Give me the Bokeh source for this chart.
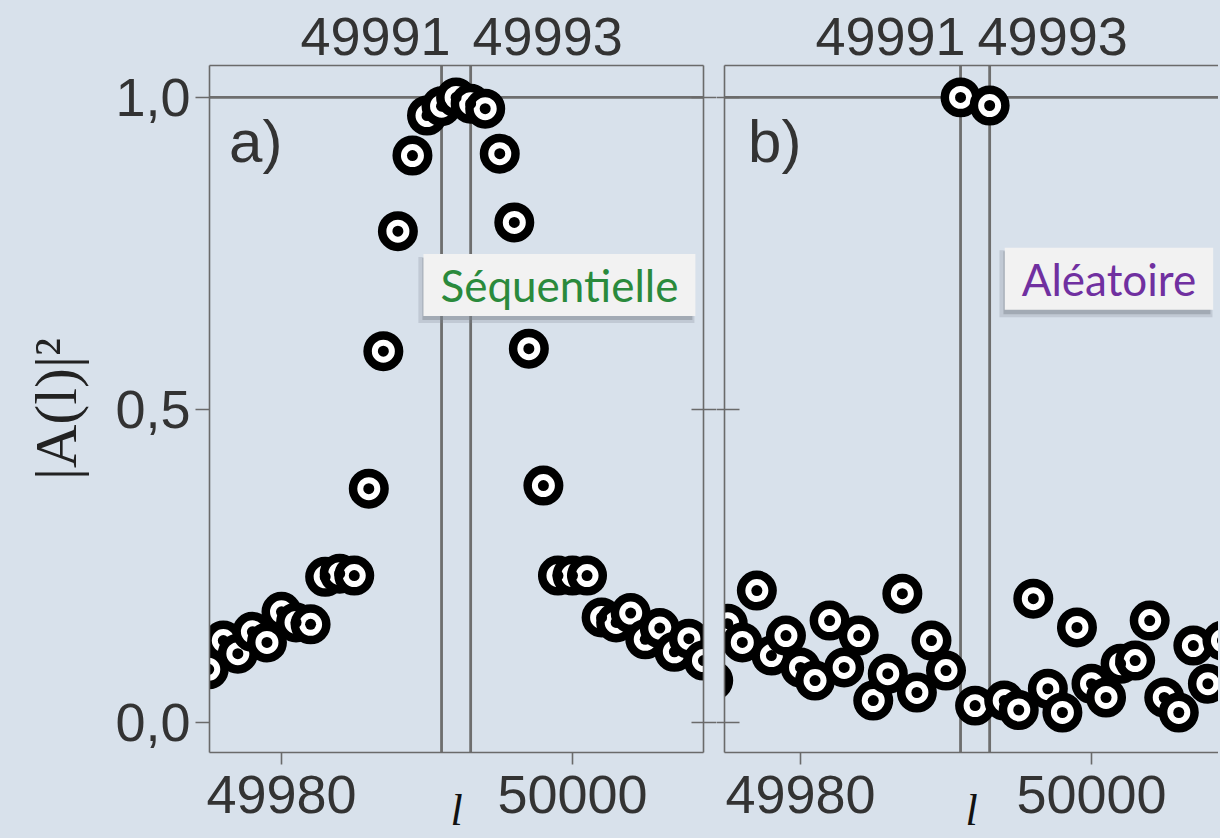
from bokeh.plotting import figure
from bokeh.layouts import row
from bokeh.models import (Span, Label, LinearAxis, FixedTicker, Range1d,
                          CustomJSTickFormatter, ColumnDataSource)
from bokeh.embed import file_html
from bokeh.resources import INLINE

# ---------------- data ----------------
l_seq = list(range(49975, 50010))
a_seq = [0.085, 0.131, 0.110, 0.145, 0.128, 0.177, 0.160, 0.157, 0.233, 0.238,
         0.235, 0.374, 0.594, 0.786, 0.907, 0.971, 0.986, 1.000, 0.990, 0.982,
         0.910, 0.800, 0.598, 0.379, 0.235, 0.235, 0.235, 0.168, 0.160, 0.175,
         0.133, 0.151, 0.113, 0.134, 0.099]

l_ale = list(range(49974, 50010))
a_ale = [0.067, 0.158, 0.128, 0.211, 0.107, 0.139, 0.088, 0.067, 0.163, 0.088,
         0.139, 0.035, 0.078, 0.206, 0.048, 0.131, 0.083, 1.000, 0.027, 0.987,
         0.035, 0.020, 0.198, 0.054, 0.016, 0.152, 0.062, 0.040, 0.094, 0.099,
         0.163, 0.040, 0.016, 0.123, 0.062, 0.131]

x_ticks = [49980, 50000]
marked_l = [49991, 49993]
marked_labels = ["49991", "49993"]
y_ticks = [0.0, 0.5, 1.0]
y_tick_labels = ["0,0", "0,5", "1,0"]
ref_level = 1.0
panel_names = ["a)", "b)"]
box_texts = ["Séquentielle", "Aléatoire"]
box_colors = ["#2a8a3c", "#7030a0"]
y_label = "|A(l)|²"
x_label = "l"

# ---------------- style ----------------
BG = "#d8e1eb"
AXC = "#6a6a6a"
TXT = "#333333"
SANS = "Liberation Sans"
SERIF = "Liberation Serif"
Y0, Y1 = -0.048, 1.051
FRAME_H = 687
PX = 14.55                         # px per unit of l
PY = FRAME_H / (Y1 - Y0)           # px per unit of |A|^2


def style_axis(ax, tick_out, tick_in=0, labels=False):
    ax.axis_line_color = AXC
    ax.axis_line_width = 1.6
    ax.major_tick_line_color = AXC
    ax.major_tick_line_width = 1.6
    ax.major_tick_out = tick_out
    ax.major_tick_in = tick_in
    ax.minor_tick_out = 0
    ax.minor_tick_in = 0
    ax.major_label_text_font = SANS
    ax.major_label_text_font_size = "54px"
    ax.major_label_text_color = TXT
    if not labels:
        ax.formatter = CustomJSTickFormatter(code="return ''")
        ax.major_label_standoff = 0


def make_panel(ls, vals, frame_w, x_left_px_to_tick, border_l, border_r,
               idx, right_axis, top_label_shift):
    x0 = x_ticks[0] - x_left_px_to_tick / PX
    x1 = x0 + frame_w / PX
    p = figure(frame_width=frame_w, frame_height=FRAME_H,
               x_range=Range1d(x0, x1), y_range=Range1d(Y0, Y1),
               output_backend="svg", toolbar_location=None,
               x_axis_location=None, y_axis_location=None,
               min_border_left=border_l, min_border_right=border_r,
               min_border_top=65, min_border_bottom=85,
               background_fill_color=BG, border_fill_color=BG,
               outline_line_color=None, styles={"background-color": BG})
    p.grid.visible = False

    # bottom axis (frame border + ticks + l label)
    bottom = LinearAxis(ticker=FixedTicker(ticks=x_ticks))
    style_axis(bottom, 12, labels=True)
    bottom.major_label_standoff = 11
    bottom.axis_label = x_label
    bottom.axis_label_text_font = SERIF
    bottom.axis_label_text_font_style = "italic"
    bottom.axis_label_text_font_size = "44px"
    bottom.axis_label_text_color = "#111111"
    bottom.axis_label_standoff = -30
    p.add_layout(bottom, "below")

    # top axis: labels of the two marked positions, set beside their lines
    top_pos = [m + s / PX for m, s in zip(marked_l, top_label_shift)]
    top = LinearAxis(ticker=FixedTicker(ticks=top_pos))
    style_axis(top, 0, labels=True)
    top.formatter = CustomJSTickFormatter(args=dict(tlabels=marked_labels),
                                          code="return tlabels[index];")
    top.major_label_standoff = 11
    p.add_layout(top, "above")

    left = LinearAxis(ticker=FixedTicker(ticks=y_ticks))
    if idx == 0:
        style_axis(left, 14, labels=True)
        left.formatter = CustomJSTickFormatter(
            args=dict(tvals=y_ticks, tlabels=y_tick_labels),
            code="const i = tvals.indexOf(tick); return i >= 0 ? tlabels[i] : '';")
        left.major_label_standoff = 5
        left.axis_label = y_label
        left.axis_label_text_font = SERIF
        left.axis_label_text_font_style = "normal"
        left.axis_label_text_font_size = "60px"
        left.axis_label_text_color = "#222222"
        left.axis_label_standoff = 23
    else:
        style_axis(left, 8, tick_in=15)
    p.add_layout(left, "left")

    if right_axis:
        right = LinearAxis(ticker=FixedTicker(ticks=y_ticks))
        style_axis(right, 13, tick_in=12)
        p.add_layout(right, "right")

    # reference lines
    p.add_layout(Span(location=ref_level, dimension="width", line_color="#6e6e6e",
                      line_width=2.8, level="underlay"))
    for m in marked_l:
        p.add_layout(Span(location=m, dimension="height", line_color="#6e6e6e",
                          line_width=2.8, level="underlay"))

    # data: thick black ring, thin white ring, black centre
    src = ColumnDataSource(dict(l=ls, a=vals))
    p.scatter("l", "a", source=src, marker="circle", size=31.5,
              line_width=8.5, line_color="black", fill_color="white")
    p.scatter("l", "a", source=src, marker="circle", size=11,
              line_color=None, fill_color="black")

    # panel name
    p.add_layout(Label(x=49976.4, y=0.93, text=panel_names[idx], text_font=SANS,
                       text_font_size="60px", text_color=TXT,
                       text_baseline="alphabetic"))
    return p


p1 = make_panel(l_seq, a_seq, 494, 72, 209, 13, 0, True, [-66, 77])
p2 = make_panel(l_ale, a_ale, 494, 76, 8, 0, 1, False, [-70, 63])

# text boxes with a soft shadow (shadow as screen-sized rectangles)
box_pos = [(p1, 49999.1, 0.700, 270, 62), (p2, 50001.2, 0.710, 207, 63)]
for (p, bx, by, bw, bh), t, c in zip(box_pos, box_texts, box_colors):
    p.rect(x=[bx - 3 / PX], y=[by - 5 / PY], width=bw + 6, height=bh + 4,
           width_units="screen", height_units="screen",
           fill_color="#7d848e", fill_alpha=0.25, line_color=None)
    p.rect(x=[bx - 2 / PX], y=[by - 4 / PY], width=bw, height=bh,
           width_units="screen", height_units="screen",
           fill_color="#7d848e", fill_alpha=0.45, line_color=None)
    p.add_layout(Label(x=bx, y=by, text=t, text_font="Lato", text_font_size="44px",
                       text_color=c, text_align="center", text_baseline="middle",
                       background_fill_color="#f2f2f2", background_fill_alpha=1.0,
                       padding=(17, 5)))

layout = row(p1, p2, styles={"background-color": BG})
html = file_html(layout, INLINE)
html = html.replace("<head>", "<head><style>html, body { background: %s !important; "
                    "overflow: hidden; }</style>" % BG, 1)
open("out.html", "w").write(html)
